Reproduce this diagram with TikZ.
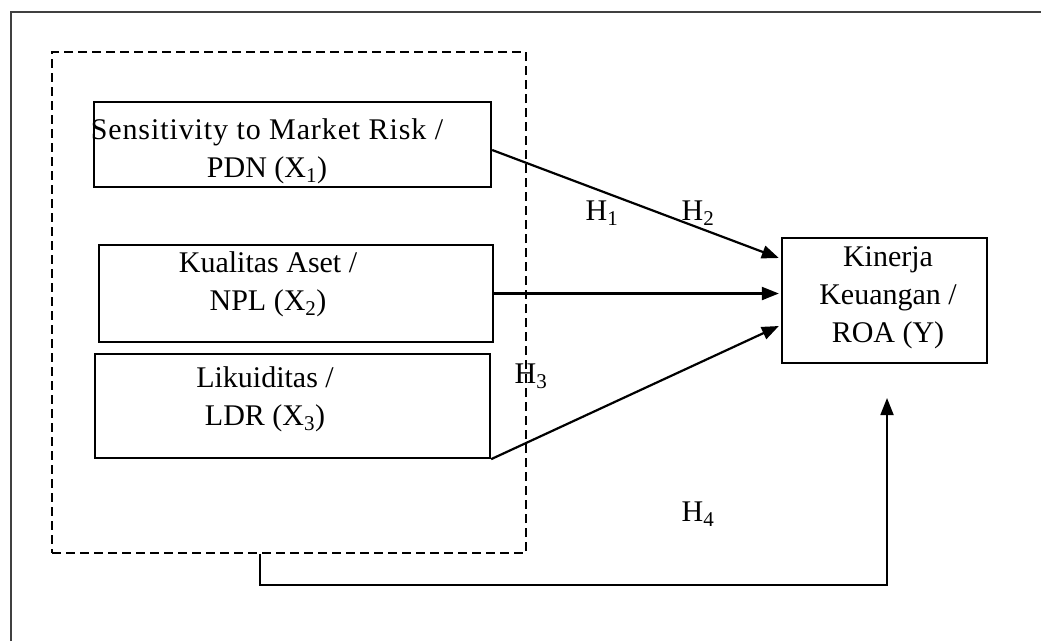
\documentclass[tikz,border=0pt]{standalone}
\usepackage{fontspec}
\setmainfont{Liberation Serif}
\usetikzlibrary{arrows.meta}
\begin{document}
\begin{tikzpicture}[x=1pt,y=-1pt,
  box/.style={draw,line width=2.3pt,rectangle,inner sep=0pt},
  lbl/.style={font=\fontsize{30}{38}\selectfont,inner sep=0pt,align=center,anchor=base},
  link/.style={line width=2.2pt,-{Triangle[length=17pt,width=13pt]}},
  grpbox/.style={draw,line width=1.8pt,dash pattern=on 9pt off 5pt,rectangle,inner sep=0pt}]
\useasboundingbox (0,0) rectangle (1041,641);
% outer frame
\draw[line width=2.2pt,black!75] (11,641) -- (11,12) -- (1041,12);
% dashed group
\node[grpbox,minimum width=474pt,minimum height=501pt] (grp) at (289,302.5) {};
% boxes
\node[box,minimum width=397pt,minimum height=85pt] (x1) at (292.5,144.5) {};
\node[box,minimum width=394pt,minimum height=97pt] (x2) at (296,293.5) {};
\node[box,minimum width=395pt,minimum height=104pt] (x3) at (292.5,406) {};
\node[box,minimum width=205pt,minimum height=125pt] (y) at (884.5,300.5) {};
% texts (anchor = baseline of last line)
\begin{scope}
\clip (x1.south west) rectangle (x1.north east);
\node[lbl] (t1) at (267,177) {{\addfontfeature{LetterSpace=3.0}Sensitivity to Market Risk /}\\PDN (X\textsubscript{1})};
\end{scope}
\node[lbl] (t2) at (268,310) {Kualitas Aset /\\NPL (X\textsubscript{2})};
\node[lbl] (t3) at (265,425) {Likuiditas /\\LDR (X\textsubscript{3})};
\node[lbl] (ty) at (888,342) {Kinerja\\Keuangan /\\ROA (Y)};
% hypothesis labels
\node[lbl] (h1) at (602,220) {H\textsubscript{1}};
\node[lbl] (h2) at (698,220) {H\textsubscript{2}};
\node[lbl] (h3) at (531,383) {H\textsubscript{3}};
\node[lbl] (h4) at (698,521) {H\textsubscript{4}};
% connectors
\draw[link] ([yshift=-5.5pt]x1.east) -- ([xshift=-2pt,yshift=42.5pt]y.west);
\draw[link] (x2.east) -- ([xshift=-2pt]x2.east -| y.west);
\draw[link] (x3.south east) -- ([xshift=-2pt,yshift=-25.5pt]y.west);
\coordinate (k4) at (260,585);
\coordinate (c4) at (887,398);
\draw[link,line width=1.8pt] (grp.south -| k4) -- (k4) -- (k4 -| c4) -- (c4);
\end{tikzpicture}
\end{document}
